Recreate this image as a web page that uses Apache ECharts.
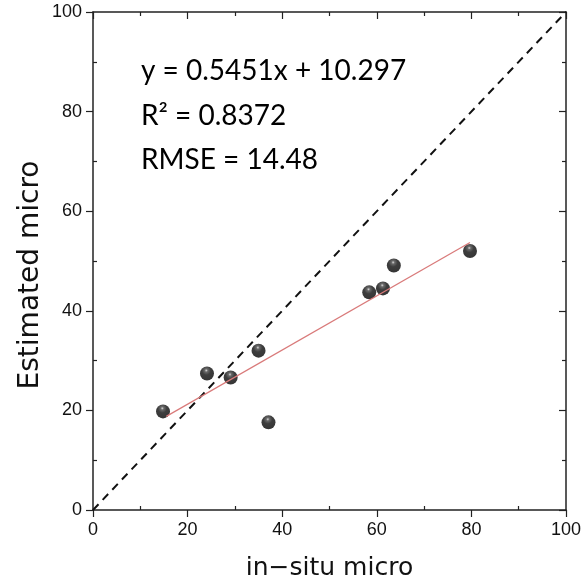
<!DOCTYPE html>
<html>
<head>
<meta charset="utf-8">
<script src="https://cdn.jsdelivr.net/npm/echarts@6/dist/echarts.min.js"></script>
<style>html,body{margin:0;padding:0;background:#fff;}#c{width:585px;height:586px;}</style>
</head>
<body>
<div id="c"></div>
<script>
// Data
const inSitu = [14.8, 24.1, 29.1, 35.0, 37.1, 58.4, 61.3, 63.6, 79.7];
const estimated = [19.8, 27.4, 26.6, 32.0, 17.6, 43.7, 44.5, 49.1, 52.0];
const trendX = [15.5, 79.7];
const trendY = [18.8, 53.7];
const oneToOneX = [0, 100];
const oneToOneY = [0, 100];
const statsLines = ['y = 0.5451x + 10.297', 'R² = 0.8372', 'RMSE = 14.48'];
const xName = 'in\u2212situ micro';
const yName = 'Estimated micro';

const chart = echarts.init(document.getElementById('c'), null, {renderer: 'canvas'});
const axisColor = '#222';
const labelFont = {fontFamily: 'Liberation Sans', fontSize: 18, color: '#111'};
const nameFont = {fontFamily: 'DejaVu Sans', fontSize: 25, color: '#111'};

function baseAxis(extra) {
  return Object.assign({
    type: 'value', min: 0, max: 100, interval: 20,
    splitLine: {show: false},
    axisLine: {show: true, onZero: false, lineStyle: {color: axisColor, width: 1.5}},
    axisTick: {show: true, inside: false, length: 7, lineStyle: {color: axisColor, width: 1.2}},
    axisLabel: {show: false},
    minorTick: {show: false}
  }, extra);
}
function minorAxis(pos, extra) {
  return Object.assign(baseAxis({position: pos}), {
    axisLine: {show: false, onZero: false},
    axisTick: {show: true, inside: true, length: 0, lineStyle: {color: axisColor, width: 1.2}},
    minorTick: {show: true, splitNumber: 2, length: 4, lineStyle: {color: axisColor, width: 1.2}}
  }, extra || {});
}

const pts = inSitu.map((v, i) => [v, estimated[i]]);
const trend = trendX.map((v, i) => [v, trendY[i]]);
const diag = oneToOneX.map((v, i) => [v, oneToOneY[i]]);

const option = {
  backgroundColor: '#fff',
  animation: false,
  grid: {left: 93, right: 19, top: 12, bottom: 74, containLabel: false},
  xAxis: [
    baseAxis({
      position: 'bottom',
      axisLabel: Object.assign({show: true, margin: 11}, labelFont),
      name: xName, nameLocation: 'middle', nameGap: 46, nameTextStyle: nameFont
    }),
    minorAxis('bottom'),
    Object.assign(baseAxis({position: 'top'}), {
      axisTick: {show: true, inside: true, length: 7, lineStyle: {color: axisColor, width: 1.2}},
      minorTick: {show: true, splitNumber: 2, length: 4, lineStyle: {color: axisColor, width: 1.2}}
    })
  ],
  yAxis: [
    baseAxis({
      position: 'left',
      axisLabel: Object.assign({show: true, margin: 11}, labelFont)
    }),
    minorAxis('left'),
    Object.assign(baseAxis({position: 'right'}), {
      axisTick: {show: true, inside: true, length: 7, lineStyle: {color: axisColor, width: 1.2}},
      minorTick: {show: true, splitNumber: 2, length: 4, lineStyle: {color: axisColor, width: 1.2}}
    })
  ],
  series: [
    {
      type: 'line', data: diag, xAxisIndex: 0, yAxisIndex: 0,
      symbol: 'none', silent: true,
      lineStyle: {color: '#111', width: 2, type: [8, 6]}
    },
    {
      type: 'line', data: trend, xAxisIndex: 0, yAxisIndex: 0,
      symbol: 'none', silent: true,
      lineStyle: {color: '#d97a7a', width: 1.2}
    },
    {
      type: 'scatter', data: pts, xAxisIndex: 0, yAxisIndex: 0,
      symbol: 'circle', symbolSize: 14,
      itemStyle: {
        color: {
          type: 'radial', x: 0.45, y: 0.28, r: 0.8,
          colorStops: [
            {offset: 0, color: '#d0d0d0'},
            {offset: 0.14, color: '#444'},
            {offset: 0.4, color: '#0d0d0d'},
            {offset: 1, color: '#000'}
          ]
        }
      }
    }
  ],
  graphic: statsLines.map((t, i) => ({
    type: 'text', left: 141, top: 57 + i * 44.5,
    style: {text: t, fontFamily: 'Lato', fontSize: 28, fill: '#000'}
  })).concat([{
    type: 'text', x: 31, y: 275, rotation: Math.PI / 2,
    style: {text: yName, fontFamily: 'DejaVu Sans', fontSize: 28, fill: '#111',
            align: 'center', verticalAlign: 'middle'}
  }])
};
chart.setOption(option);
</script>
</body>
</html>
